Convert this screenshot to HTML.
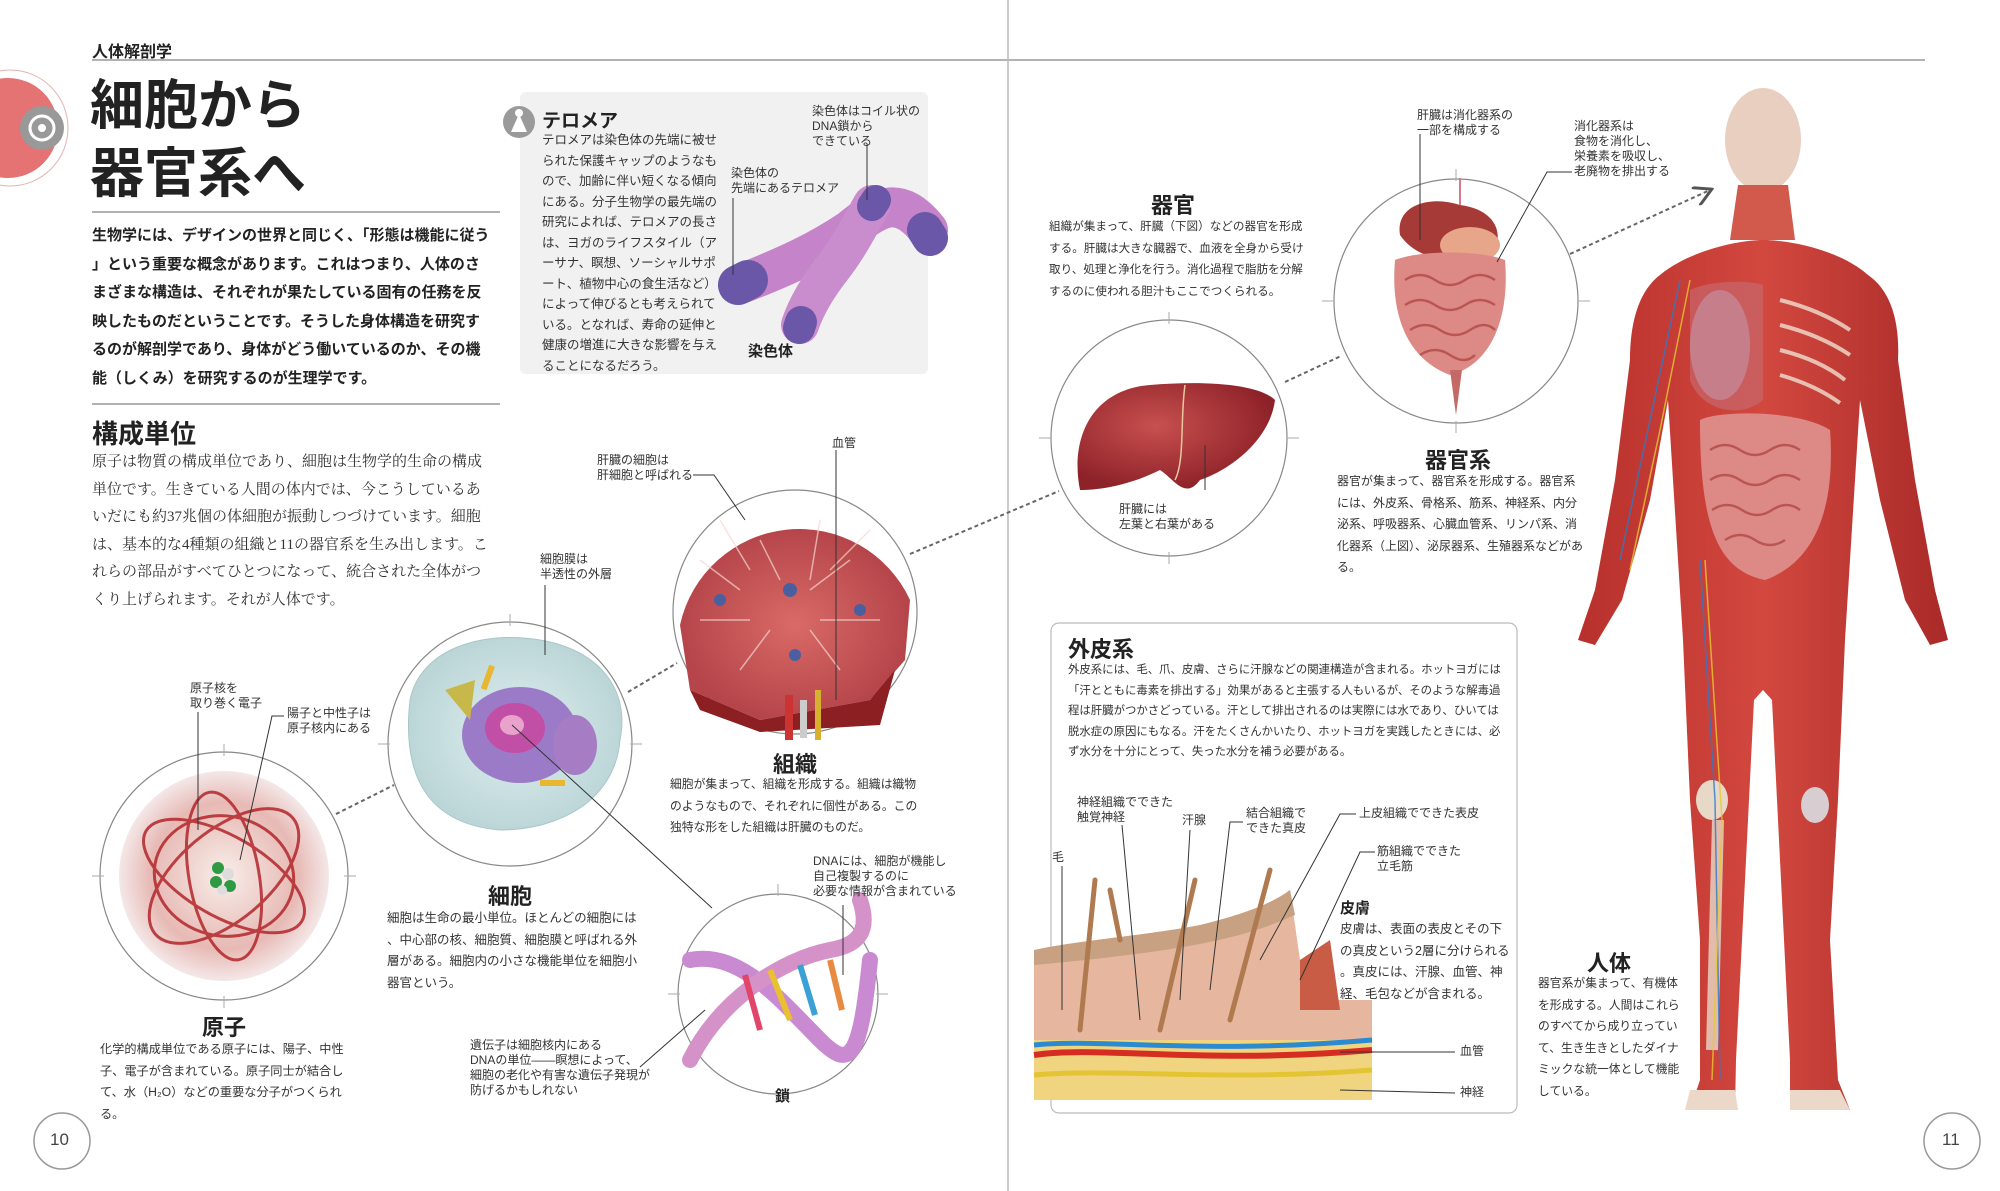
<!DOCTYPE html>
<html><head><meta charset="utf-8"><style>
body{margin:0;background:#fff;}
#p{position:relative;width:2000px;height:1191px;overflow:hidden;background:#fff;font-family:"Liberation Sans","Noto Sans CJK JP",sans-serif;color:#222;}
.t{position:absolute;white-space:nowrap;}
.b{font-weight:bold;}
.para{position:absolute;font-size:12px;line-height:21.5px;color:#333;white-space:normal;word-break:break-all;line-break:anywhere;}
.lab{position:absolute;font-size:12px;line-height:15px;color:#333;white-space:nowrap;}
.h{position:absolute;font-weight:bold;font-size:22px;transform:translateX(-50%);white-space:nowrap;color:#222;}
svg{position:absolute;left:0;top:0;}
</style></head><body><div id="p">
<svg width="2000" height="1191" viewBox="0 0 2000 1191">
<defs>
<radialGradient id="gAtom" cx="50%" cy="50%" r="50%"><stop offset="0" stop-color="#f8eeea"/><stop offset="0.7" stop-color="#e7b9b4"/><stop offset="1" stop-color="#f4e8e8"/></radialGradient>
<radialGradient id="gCell" cx="50%" cy="50%" r="50%"><stop offset="0" stop-color="#dfeeee"/><stop offset="1" stop-color="#bcd6d8"/></radialGradient>
<radialGradient id="gTis" cx="50%" cy="50%" r="50%"><stop offset="0" stop-color="#d96a66"/><stop offset="1" stop-color="#b5454a"/></radialGradient>
<radialGradient id="gLiv" cx="40%" cy="40%" r="60%"><stop offset="0" stop-color="#c8504f"/><stop offset="1" stop-color="#8e2229"/></radialGradient>
<linearGradient id="gMus" x1="0" x2="1"><stop offset="0" stop-color="#b8302c"/><stop offset="0.5" stop-color="#d2483f"/><stop offset="1" stop-color="#a92a28"/></linearGradient>
<marker id="ar" markerWidth="10" markerHeight="10" refX="8" refY="5" orient="auto"><path d="M0,0 L9,5 L0,10" fill="none" stroke="#555" stroke-width="1.5"/></marker>
</defs>
<line x1="92" y1="60" x2="1925" y2="60" stroke="#999" stroke-width="1.5"/>
<line x1="1008" y1="0" x2="1008" y2="1191" stroke="#bbb" stroke-width="1.5"/>
<line x1="92" y1="212" x2="500" y2="212" stroke="#999" stroke-width="1.5"/>
<line x1="92" y1="404" x2="500" y2="404" stroke="#999" stroke-width="1.5"/>
<circle cx="10" cy="128" r="58" fill="none" stroke="#e3b3b3" stroke-width="1"/>
<circle cx="8" cy="128" r="50" fill="#e57373"/>
<circle cx="42" cy="128" r="22" fill="#999"/>
<circle cx="42" cy="128" r="12" fill="none" stroke="#fff" stroke-width="3"/>
<circle cx="42" cy="128" r="4" fill="#fff"/>
<rect x="520" y="92" width="408" height="282" rx="6" fill="#f1f1f1"/>
<circle cx="519" cy="122" r="16" fill="#9a9a9a"/>
<path d="M511,132 L519,114 L527,132 Z" fill="#fff"/>
<circle cx="519" cy="113" r="4" fill="#fff"/>
<g stroke-linecap="round" fill="none">
<path d="M738,285 C790,265 820,250 850,230 C880,205 900,195 928,230" stroke="#c583c9" stroke-width="40"/>
<path d="M872,204 C860,225 850,245 835,265 C815,290 805,310 800,325" stroke="#c98ccc" stroke-width="38"/>
<path d="M738,285 L748,280" stroke="#6a57a8" stroke-width="40"/>
<path d="M925,230 L930,238" stroke="#6a57a8" stroke-width="36"/>
<path d="M876,200 L872,206" stroke="#6a57a8" stroke-width="30"/>
<path d="M801,322 L799,328" stroke="#6a57a8" stroke-width="32"/>
</g>
<g stroke="#333" stroke-width="1" fill="none">
<line x1="867" y1="145" x2="867" y2="200"/>
<line x1="733" y1="198" x2="733" y2="275"/>
</g>
<g fill="none" stroke="#888" stroke-width="1.2">
<circle cx="224" cy="876" r="124"/>
<circle cx="510" cy="744" r="122"/>
<circle cx="795" cy="612" r="122"/>
<circle cx="778" cy="994" r="100"/>
<circle cx="1169" cy="438" r="118"/>
<circle cx="1456" cy="301" r="122"/>
</g>
<g stroke="#aaa" stroke-width="1">
<line x1="224" y1="744" x2="224" y2="756"/><line x1="224" y1="996" x2="224" y2="1008"/><line x1="92" y1="876" x2="104" y2="876"/><line x1="344" y1="876" x2="356" y2="876"/>
<line x1="510" y1="614" x2="510" y2="626"/><line x1="378" y1="744" x2="390" y2="744"/><line x1="630" y1="744" x2="642" y2="744"/>
<line x1="1169" y1="312" x2="1169" y2="324"/><line x1="1039" y1="438" x2="1051" y2="438"/><line x1="1287" y1="438" x2="1299" y2="438"/><line x1="1169" y1="552" x2="1169" y2="564"/>
<line x1="1456" y1="169" x2="1456" y2="181"/><line x1="1322" y1="301" x2="1334" y2="301"/><line x1="1578" y1="301" x2="1590" y2="301"/><line x1="1456" y1="421" x2="1456" y2="433"/>
<line x1="778" y1="884" x2="778" y2="896"/><line x1="668" y1="994" x2="680" y2="994"/><line x1="876" y1="994" x2="888" y2="994"/>
</g>
<circle cx="224" cy="876" r="105" fill="url(#gAtom)"/>
<g fill="none" stroke="#b3262b" stroke-width="3" opacity="0.85">
<ellipse cx="224" cy="876" rx="90" ry="40" transform="rotate(30 224 876)"/>
<ellipse cx="224" cy="876" rx="90" ry="45" transform="rotate(-40 224 876)"/>
<ellipse cx="224" cy="876" rx="85" ry="35" transform="rotate(80 224 876)"/>
<ellipse cx="224" cy="876" rx="70" ry="60" transform="rotate(10 224 876)"/>
</g>
<g><circle cx="218" cy="868" r="6" fill="#2e9b44"/><circle cx="228" cy="874" r="6" fill="#ddd"/><circle cx="216" cy="882" r="6" fill="#2e9b44"/><circle cx="230" cy="886" r="6" fill="#2e9b44"/><circle cx="222" cy="890" r="5" fill="#ddd"/></g>
<path d="M410,700 C420,650 480,630 540,640 C600,650 630,690 620,740 C615,800 560,830 500,830 C440,825 400,790 410,700Z" fill="url(#gCell)" stroke="#a8c6c8"/>
<ellipse cx="520" cy="735" rx="58" ry="48" fill="#9b7bc8"/>
<ellipse cx="515" cy="728" rx="30" ry="25" fill="#c24fa6"/>
<ellipse cx="512" cy="725" rx="12" ry="10" fill="#e9a2cc"/>
<path d="M445,690 l30,-10 l-5,40 z" fill="#c8b84a"/>
<ellipse cx="575" cy="745" rx="22" ry="30" fill="#a67cc4"/>
<rect x="485" y="665" width="6" height="25" fill="#e8b630" transform="rotate(20 488 677)"/>
<rect x="540" y="780" width="25" height="6" fill="#e8b630"/>
<path d="M680,625 A122,122 0 0 1 910,600 L905,660 L870,700 L760,720 L690,690 Z" fill="url(#gTis)"/>
<path d="M690,690 L760,720 L870,700 L895,670 L880,725 L760,732 L700,710Z" fill="#8b1f22"/>
<g stroke="#f4d7cf" stroke-width="1.5" opacity="0.7" fill="none">
<path d="M700,560 l40,30 M760,540 l20,40 M820,520 l-10,60 M850,560 l-40,30 M700,620 l50,0 M880,620 l-60,0 M740,670 l30,-40 M840,670 l-30,-40 M720,520 l30,50 M870,530 l-40,40"/>
</g>
<circle cx="790" cy="590" r="7" fill="#4a5fa0"/><circle cx="720" cy="600" r="6" fill="#4a5fa0"/><circle cx="860" cy="610" r="6" fill="#4a5fa0"/><circle cx="795" cy="655" r="6" fill="#4a5fa0"/>
<g><rect x="785" y="695" width="8" height="45" fill="#c33"/><rect x="800" y="700" width="7" height="38" fill="#ccc"/><rect x="815" y="690" width="6" height="50" fill="#d8b030"/></g>
<g fill="none" stroke-width="16" stroke-linecap="round">
<path d="M690,960 C740,950 780,1000 820,1040 C850,1070 860,1060 870,960" stroke="#c98ad1"/>
<path d="M690,1060 C720,1000 780,960 830,950 C860,945 870,930 860,900" stroke="#d592c8"/>
</g>
<g stroke-width="6"><line x1="745" y1="975" x2="760" y2="1030" stroke="#e2446a"/><line x1="770" y1="970" x2="790" y2="1020" stroke="#e8c030"/><line x1="800" y1="965" x2="815" y2="1015" stroke="#3aa0d6"/><line x1="830" y1="960" x2="842" y2="1010" stroke="#e88a40"/></g>
<path d="M1080,490 C1070,440 1090,390 1150,385 C1210,380 1260,385 1275,400 C1270,440 1230,470 1200,480 C1185,500 1175,480 1160,470 C1140,480 1110,490 1080,490Z" fill="url(#gLiv)"/>
<path d="M1185,385 C1180,420 1185,460 1175,480" stroke="#e8c9a0" stroke-width="1.5" fill="none"/>
<path d="M1400,235 C1395,205 1430,195 1460,205 C1500,210 1505,240 1490,255 C1470,265 1420,265 1400,235Z" fill="#a63a36"/>
<ellipse cx="1470" cy="245" rx="30" ry="18" fill="#e7a58a"/>
<path d="M1395,260 C1390,320 1410,360 1450,375 C1490,365 1510,320 1505,260 C1480,250 1420,250 1395,260Z" fill="#dd8a86"/>
<g stroke="#b95652" stroke-width="2.5" fill="none"><path d="M1405,280 q15,-10 30,0 t30,0 t30,0 M1405,305 q15,-10 30,0 t30,0 t30,0 M1410,330 q15,-10 30,0 t30,0 t25,0 M1420,355 q15,-10 30,0 t25,0"/></g>
<path d="M1450,370 L1456,415 L1462,370Z" fill="#c46a66"/>
<line x1="1460" y1="178" x2="1460" y2="205" stroke="#d87a8a" stroke-width="2"/>
<g stroke="#333" stroke-width="1" fill="none">
<line x1="1420" y1="134" x2="1420" y2="240"/>
<polyline points="1572,172 1547,172 1497,262"/>
<line x1="1205" y1="490" x2="1205" y2="445"/>
<polyline points="693,475 714,475 745,520"/>
<line x1="836" y1="450" x2="836" y2="700"/>
<line x1="545" y1="585" x2="545" y2="655"/>
<line x1="198" y1="712" x2="198" y2="830"/>
<polyline points="284,716 272,716 240,860"/>
<line x1="512" y1="725" x2="712" y2="908"/>
<line x1="843" y1="905" x2="843" y2="975"/>
<line x1="640" y1="1067" x2="705" y2="1010"/>
</g>
<g stroke="#666" stroke-width="2" stroke-dasharray="4,3" fill="none">
<line x1="336" y1="814" x2="394" y2="785"/>
<line x1="628" y1="692" x2="677" y2="663"/>
<line x1="910" y1="554" x2="1059" y2="491"/>
<line x1="1285" y1="382" x2="1341" y2="356"/>
<line x1="1570" y1="254" x2="1710" y2="190" marker-end="url(#ar)"/>
</g>
<rect x="1051" y="623" width="466" height="490" rx="8" fill="#fff" stroke="#bbb" stroke-width="1.2"/>
<path d="M1034,950 C1080,940 1150,935 1200,925 C1240,915 1270,905 1290,890 L1300,960 L1330,1000 L1372,1000 L1372,1090 L1034,1095Z" fill="#e6b69e"/>
<path d="M1034,950 C1080,940 1150,935 1200,925 C1240,915 1270,905 1290,890 L1295,915 C1250,935 1200,950 1034,965Z" fill="#c7a182"/>
<path d="M1300,960 L1330,940 L1340,1010 L1300,1010Z" fill="#c85c45"/>
<rect x="1034" y="1040" width="338" height="60" fill="#f1d480"/>
<path d="M1034,1055 C1100,1045 1200,1065 1372,1050" stroke="#d62d23" stroke-width="6" fill="none"/>
<path d="M1034,1045 C1100,1038 1200,1055 1372,1040" stroke="#2c8ad0" stroke-width="5" fill="none"/>
<path d="M1034,1075 C1120,1068 1220,1082 1372,1070" stroke="#e3c433" stroke-width="5" fill="none"/>
<g stroke="#b07a50" stroke-width="5" stroke-linecap="round"><line x1="1080" y1="1030" x2="1095" y2="880"/><line x1="1160" y1="1030" x2="1195" y2="880"/><line x1="1230" y1="1020" x2="1270" y2="870"/><line x1="1120" y1="940" x2="1110" y2="890"/></g>
<g stroke="#333" stroke-width="1" fill="none">
<line x1="1062" y1="866" x2="1062" y2="1010"/>
<line x1="1122" y1="825" x2="1140" y2="1020"/>
<line x1="1190" y1="830" x2="1180" y2="1000"/>
<polyline points="1243,822 1230,822 1210,990"/>
<polyline points="1356,814 1340,814 1260,960"/>
<polyline points="1375,852 1360,852 1300,980"/>
<line x1="1340" y1="1052" x2="1455" y2="1052"/>
<line x1="1340" y1="1090" x2="1455" y2="1093"/>
</g>
<g>
<ellipse cx="1763" cy="140" rx="38" ry="52" fill="#e9cfc0"/>
<path d="M1738,185 L1788,185 L1795,240 L1730,240Z" fill="#d15a4d"/>
<path d="M1660,275 C1690,250 1740,240 1763,240 C1790,240 1840,250 1868,275 C1890,290 1900,320 1898,360 L1915,480 L1935,590 L1948,640 L1930,645 L1905,600 L1880,500 L1860,400 L1850,560 L1845,640 L1838,800 L1830,940 L1838,1080 L1850,1110 L1790,1110 L1790,1060 L1782,900 L1772,700 L1763,690 L1754,700 L1744,900 L1736,1060 L1735,1110 L1690,1110 L1700,1080 L1700,940 L1690,800 L1683,640 L1678,560 L1668,400 L1650,500 L1622,600 L1595,645 L1578,640 L1595,590 L1615,480 L1630,360 C1630,320 1640,290 1660,275Z" fill="url(#gMus)"/>
<path d="M1690,290 C1710,280 1750,280 1763,285 L1763,400 C1740,420 1700,410 1690,380Z" fill="#c8666b" opacity="0.7"/>
<ellipse cx="1720" cy="345" rx="30" ry="55" fill="#c58f9e" opacity="0.7"/>
<path d="M1700,420 C1720,410 1800,410 1830,430 C1835,500 1820,560 1765,580 C1715,570 1700,520 1700,420Z" fill="#dd8a86"/>
<g stroke="#b95652" stroke-width="2.5" fill="none"><path d="M1710,450 q15,-10 30,0 t30,0 t30,0 M1710,480 q15,-10 30,0 t30,0 t30,0 M1712,510 q15,-10 30,0 t30,0 t28,0 M1725,540 q15,-10 30,0 t30,0"/></g>
<g stroke="#efe0d0" stroke-width="4" fill="none" opacity="0.8"><path d="M1780,300 q40,10 70,30 M1780,325 q40,10 70,30 M1780,350 q40,10 65,30 M1780,375 q35,10 60,28"/></g>
<g stroke="#e8d9c8" stroke-width="12" fill="none" opacity="0.8"><line x1="1718" y1="820" x2="1712" y2="1050"/></g>
<ellipse cx="1712" cy="800" rx="16" ry="20" fill="#e8d8c8"/>
<ellipse cx="1815" cy="805" rx="14" ry="18" fill="#d8cdd0"/>
<g stroke="#2d79c9" stroke-width="1.5" fill="none" opacity="0.8"><path d="M1680,280 L1650,420 L1620,560 M1700,560 L1715,800 L1720,1080"/></g>
<g stroke="#e6c930" stroke-width="1.5" fill="none" opacity="0.8"><path d="M1690,280 L1660,430 L1630,570 M1705,560 L1722,820 L1712,1080"/></g>
<path d="M1690,1090 L1735,1090 L1738,1110 L1685,1110Z" fill="#ecd8c8"/>
<path d="M1790,1090 L1840,1090 L1850,1110 L1790,1110Z" fill="#ecd8c8"/>
</g>
<circle cx="62" cy="1141" r="28" fill="#fff" stroke="#999" stroke-width="1.5"/>
<circle cx="1952" cy="1141" r="28" fill="#fff" stroke="#999" stroke-width="1.5"/>
</svg>

<div class="t b" style="left:92px;top:38px;font-size:16px;">人体解剖学</div>
<div class="t b" style="left:90px;top:72px;font-size:54px;line-height:68px;">細胞から<br>器官系へ</div>
<div class="para b" style="left:92px;top:222px;width:400px;font-size:15px;line-height:28.5px;color:#222;">生物学には、デザインの世界と同じく、「形態は機能に従う」という重要な概念があります。これはつまり、人体のさまざまな構造は、それぞれが果たしている固有の任務を反映したものだということです。そうした身体構造を研究するのが解剖学であり、身体がどう働いているのか、その機能（しくみ）を研究するのが生理学です。</div>
<div class="t b" style="left:92px;top:414px;font-size:26px;">構成単位</div>
<div class="para" style="left:92px;top:449px;width:400px;font-size:15px;line-height:27.5px;font-family:'Liberation Serif','Noto Serif CJK SC',serif;">原子は物質の構成単位であり、細胞は生物学的生命の構成単位です。生きている人間の体内では、今こうしているあいだにも約37兆個の体細胞が振動しつづけています。細胞は、基本的な4種類の組織と11の器官系を生み出します。これらの部品がすべてひとつになって、統合された全体がつくり上げられます。それが人体です。</div>

<div class="t b" style="left:542px;top:106px;font-size:19px;">テロメア</div>
<div class="para" style="left:542px;top:130px;width:182px;font-size:12.5px;line-height:20.5px;">テロメアは染色体の先端に被せられた保護キャップのようなもので、加齢に伴い短くなる傾向にある。分子生物学の最先端の研究によれば、テロメアの長さは、ヨガのライフスタイル（アーサナ、瞑想、ソーシャルサポート、植物中心の食生活など）によって伸びるとも考えられている。となれば、寿命の延伸と健康の増進に大きな影響を与えることになるだろう。</div>
<div class="lab" style="left:812px;top:104px;">染色体はコイル状の<br>DNA鎖から<br>できている</div>
<div class="lab" style="left:731px;top:166px;">染色体の<br>先端にあるテロメア</div>
<div class="t b" style="left:748px;top:340px;font-size:15px;">染色体</div>

<div class="h" style="left:1173px;top:188px;">器官</div>
<div class="para" style="left:1049px;top:216px;width:256px;font-size:11.6px;line-height:21.5px;">組織が集まって、肝臓（下図）などの器官を形成する。肝臓は大きな臓器で、血液を全身から受け取り、処理と浄化を行う。消化過程で脂肪を分解するのに使われる胆汁もここでつくられる。</div>
<div class="lab" style="left:1417px;top:108px;">肝臓は消化器系の<br>一部を構成する</div>
<div class="lab" style="left:1574px;top:119px;">消化器系は<br>食物を消化し、<br>栄養素を吸収し、<br>老廃物を排出する</div>
<div class="h" style="left:1458px;top:443px;">器官系</div>
<div class="para" style="left:1337px;top:471px;width:248px;font-size:12px;line-height:21.5px;">器官が集まって、器官系を形成する。器官系には、外皮系、骨格系、筋系、神経系、内分泌系、呼吸器系、心臓血管系、リンパ系、消化器系（上図）、泌尿器系、生殖器系などがある。</div>
<div class="lab" style="left:1119px;top:502px;">肝臓には<br>左葉と右葉がある</div>

<div class="lab" style="left:597px;top:453px;">肝臓の細胞は<br>肝細胞と呼ばれる</div>
<div class="lab" style="left:832px;top:436px;">血管</div>
<div class="lab" style="left:540px;top:552px;">細胞膜は<br>半透性の外層</div>
<div class="h" style="left:795px;top:747px;">組織</div>
<div class="para" style="left:670px;top:774px;width:252px;font-size:11.8px;line-height:21.5px;">細胞が集まって、組織を形成する。組織は織物のようなもので、それぞれに個性がある。この独特な形をした組織は肝臓のものだ。</div>
<div class="lab" style="left:190px;top:681px;">原子核を<br>取り巻く電子</div>
<div class="lab" style="left:287px;top:706px;">陽子と中性子は<br>原子核内にある</div>
<div class="h" style="left:510px;top:879px;">細胞</div>
<div class="para" style="left:387px;top:908px;width:250px;font-size:12.5px;line-height:21.5px;">細胞は生命の最小単位。ほとんどの細胞には、中心部の核、細胞質、細胞膜と呼ばれる外層がある。細胞内の小さな機能単位を細胞小器官という。</div>
<div class="h" style="left:224px;top:1010px;">原子</div>
<div class="para" style="left:100px;top:1039px;width:252px;font-size:12.2px;line-height:21.5px;">化学的構成単位である原子には、陽子、中性子、電子が含まれている。原子同士が結合して、水（H₂O）などの重要な分子がつくられる。</div>
<div class="lab" style="left:813px;top:854px;">DNAには、細胞が機能し<br>自己複製するのに<br>必要な情報が含まれている</div>
<div class="lab" style="left:470px;top:1038px;">遺伝子は細胞核内にある<br>DNAの単位――瞑想によって、<br>細胞の老化や有害な遺伝子発現が<br>防げるかもしれない</div>
<div class="t b" style="left:775px;top:1085px;font-size:15px;">鎖</div>

<div class="t b" style="left:1068px;top:632px;font-size:22px;">外皮系</div>
<div class="para" style="left:1068px;top:660px;width:440px;font-size:11.4px;line-height:20.5px;">外皮系には、毛、爪、皮膚、さらに汗腺などの関連構造が含まれる。ホットヨガには「汗とともに毒素を排出する」効果があると主張する人もいるが、そのような解毒過程は肝臓がつかさどっている。汗として排出されるのは実際には水であり、ひいては脱水症の原因にもなる。汗をたくさんかいたり、ホットヨガを実践したときには、必ず水分を十分にとって、失った水分を補う必要がある。</div>
<div class="lab" style="left:1077px;top:795px;">神経組織でできた<br>触覚神経</div>
<div class="lab" style="left:1182px;top:813px;">汗腺</div>
<div class="lab" style="left:1246px;top:806px;">結合組織で<br>できた真皮</div>
<div class="lab" style="left:1359px;top:806px;">上皮組織でできた表皮</div>
<div class="lab" style="left:1377px;top:844px;">筋組織でできた<br>立毛筋</div>
<div class="lab" style="left:1052px;top:850px;">毛</div>
<div class="t b" style="left:1340px;top:897px;font-size:15px;">皮膚</div>
<div class="para" style="left:1340px;top:919px;width:170px;font-size:12.5px;line-height:21.5px;">皮膚は、表面の表皮とその下の真皮という2層に分けられる。真皮には、汗腺、血管、神経、毛包などが含まれる。</div>
<div class="lab" style="left:1460px;top:1044px;">血管</div>
<div class="lab" style="left:1460px;top:1085px;">神経</div>

<div class="h" style="left:1609px;top:946px;">人体</div>
<div class="para" style="left:1538px;top:973px;width:146px;font-size:11.8px;line-height:21.5px;">器官系が集まって、有機体を形成する。人間はこれらのすべてから成り立っていて、生き生きとしたダイナミックな統一体として機能している。</div>

<div class="t" style="left:50px;top:1130px;font-size:17px;color:#444;">10</div>
<div class="t" style="left:1942px;top:1130px;font-size:17px;color:#444;">11</div>
</div></body></html>
